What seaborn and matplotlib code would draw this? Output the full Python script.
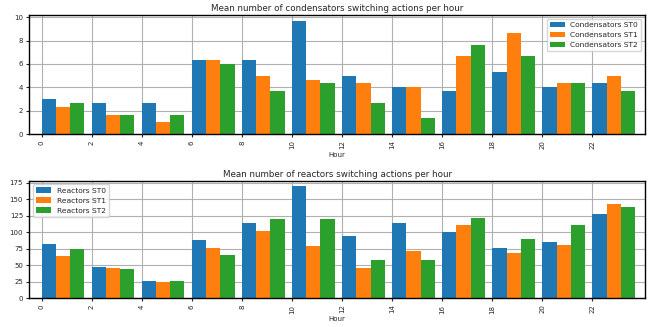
import numpy as np
import pandas as pd
import matplotlib
matplotlib.use("Agg")
import matplotlib.pyplot as plt
import seaborn as sns

hours = [0, 2, 4, 6, 8, 10, 12, 14, 16, 18, 20, 22]

cond_st0 = [3.0, 2.67, 2.67, 6.33, 6.33, 9.67, 5.0, 4.0, 3.67, 5.33, 4.0, 4.33]
cond_st1 = [2.33, 1.67, 1.0, 6.33, 5.0, 4.67, 4.33, 4.0, 6.67, 8.67, 4.33, 5.0]
cond_st2 = [2.67, 1.67, 1.67, 6.0, 3.67, 4.33, 2.67, 1.33, 7.67, 6.67, 4.33, 3.67]

reac_st0 = [82, 47.5, 26.3, 88.3, 114, 170, 94.3, 114, 99.7, 76.3, 85.3, 127.7]
reac_st1 = [64, 46, 24.3, 76.3, 102, 79.3, 46, 71.7, 111, 68.7, 80.7, 142.7]
reac_st2 = [74.3, 44.7, 26.3, 65.7, 120, 120, 58, 58, 121.7, 89.7, 111, 138.3]

cond_labels = ["Condensators ST0", "Condensators ST1", "Condensators ST2"]
reac_labels = ["Reactors ST0", "Reactors ST1", "Reactors ST2"]
colors = ["#1f77b4", "#ff7f0e", "#2ca02c"]

def make_df(series, labels):
    rows = []
    for vals, lab in zip(series, labels):
        for h, v in zip(hours, vals):
            rows.append({"Hour": h, "value": v, "series": lab})
    return pd.DataFrame(rows)

sns.set_style("white")
plt.rcParams["font.family"] = ["DejaVu Sans"]

fig = plt.figure(figsize=(6.49, 3.27), dpi=100)
ax1 = fig.add_axes([29.3 / 649, 1 - 134 / 327, (645 - 29.3) / 649, (134 - 15) / 327])
ax2 = fig.add_axes([29.3 / 649, 1 - 298.3 / 327, (645 - 29.3) / 649, (298.3 - 180.7) / 327])

fs = 5.0
gw = 0.85
for ax, series, labels, title, ylim, yticks, loc in [
    (ax1, [cond_st0, cond_st1, cond_st2], cond_labels,
     "Mean number of condensators switching actions per hour", (0, 10.2), [0, 2, 4, 6, 8, 10], "upper right"),
    (ax2, [reac_st0, reac_st1, reac_st2], reac_labels,
     "Mean number of reactors switching actions per hour", (0, 178), [0, 25, 50, 75, 100, 125, 150, 175], "upper left"),
]:
    df = make_df(series, labels)
    sns.barplot(data=df, x="Hour", y="value", hue="series", palette=colors,
                width=gw, gap=0, saturation=1, errorbar=None, ax=ax, zorder=2,
                linewidth=0, edgecolor="none")
    ax.set_axisbelow(True)
    ax.grid(True, color="#b0b0b0", linewidth=0.8)
    ax.set_xticks(np.arange(len(hours)) - gw / 2)
    ax.set_xticklabels([str(h) for h in hours], rotation=90, fontsize=fs)
    ax.set_xlim(-0.5 / 2 - gw / 2, 24.1 / 2 - gw / 2)
    ax.set_ylim(*ylim)
    ax.set_yticks(yticks)
    ax.tick_params(axis="y", labelsize=fs, length=2.5, width=0.8, left=True, pad=2)
    ax.tick_params(axis="x", length=2.5, width=0.8, bottom=True, pad=2)
    ax.set_xlabel("Hour", fontsize=fs, labelpad=2)
    ax.set_ylabel("")
    ax.set_title(title, fontsize=6.3, pad=3)
    for s in ax.spines.values():
        s.set_color("black")
        s.set_linewidth(1.0)
    leg = ax.legend(loc=loc, fontsize=5.4, frameon=True, handlelength=2.0)
    leg.get_frame().set_edgecolor("#cccccc")

fig.savefig("out.png", dpi=100)
